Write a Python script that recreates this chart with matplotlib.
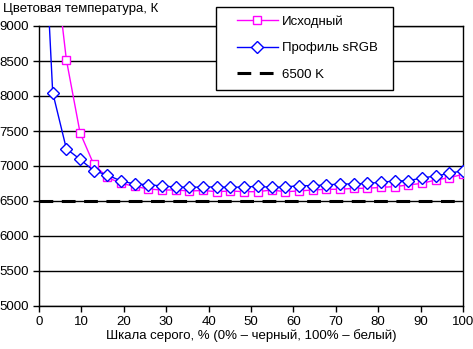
import numpy as np
import matplotlib
matplotlib.use("Agg")
import matplotlib.pyplot as plt
from matplotlib.patches import Rectangle

plt.rcParams['font.family'] = ['Liberation Sans', 'DejaVu Sans']
plt.rcParams['font.size'] = 9.5

# grey levels, %
x_src = [3.23, 6.45, 9.68, 12.90, 16.13, 19.35, 22.58, 25.81, 29.03, 32.26,
         35.48, 38.71, 41.94, 45.16, 48.39, 51.61, 54.84, 58.06, 61.29, 64.52,
         67.74, 70.97, 74.19, 77.42, 80.65, 83.87, 87.10, 90.32, 93.55, 96.77, 100.0]
t_src = [10200, 8520, 7476, 7024, 6838, 6752, 6710, 6671, 6657, 6657,
         6643, 6650, 6633, 6643, 6633, 6633, 6657, 6633, 6643, 6657,
         6667, 6667, 6681, 6681, 6695, 6705, 6729, 6752, 6800, 6833, 6881]

x_srgb = [0.0, 3.23, 6.45, 9.68, 12.90, 16.13, 19.35, 22.58, 25.81, 29.03,
          32.26, 35.48, 38.71, 41.94, 45.16, 48.39, 51.61, 54.84, 58.06, 61.29,
          64.52, 67.74, 70.97, 74.19, 77.42, 80.65, 83.87, 87.10, 90.32, 93.55,
          96.77, 100.0]
t_srgb = [12000, 8050, 7247, 7096, 6933, 6871, 6786, 6743, 6733, 6714,
          6700, 6695, 6700, 6700, 6695, 6700, 6710, 6695, 6700, 6719,
          6719, 6729, 6743, 6743, 6752, 6767, 6786, 6790, 6829, 6857,
          6895, 6933]

ref_x = [0, 100]
ref_t = [6500, 6500]

fig = plt.figure(figsize=(4.73, 3.49), dpi=100)
ax = fig.add_axes([39/473, 1 - 306/349, (463 - 39)/473, (306 - 26)/349])

l3, = ax.plot(ref_x, ref_t, color='black', lw=2.2, dashes=(4.5, 2.8), zorder=2)
l1, = ax.plot(x_src, t_src, color='#ff00ff', lw=1, marker='s', ms=6.2,
              mfc='white', mec='#ff00ff', mew=1, zorder=3)
l2, = ax.plot(x_srgb, t_srgb, color='#0000ff', lw=1, marker='D', ms=5.8,
              mfc='white', mec='#0000ff', mew=1, zorder=4)

ax.set_xlim(0, 100)
ax.set_ylim(5000, 9000)
ax.set_xticks(np.arange(0, 101, 10))
ax.set_yticks(np.arange(5000, 9001, 500))
ax.yaxis.grid(True, color='black', lw=1)
ax.set_axisbelow(True)
ax.tick_params(direction='out', length=4, width=1, colors='black', pad=3)
for s in ax.spines.values():
    s.set_linewidth(1)
    s.set_color('black')

ax.set_xlabel('Шкала серого, % (0% – черный, 100% – белый)', labelpad=1)
fig.text(3/473, 1 - 9/349, 'Цветовая температура, К', ha='left', va='center')

# legend box drawn separately so padding matches the original
fig.patches.append(Rectangle((216/473, 1 - 90/349), (393 - 216)/473, (90 - 7)/349,
                             transform=fig.transFigure, facecolor='white',
                             edgecolor='black', lw=1, zorder=5))
leg = fig.legend([l1, l2, l3], ['Исходный', 'Профиль sRGB', '6500 K'],
                 loc='upper left', bbox_to_anchor=(237/473, 1 - 15/349),
                 borderaxespad=0, borderpad=0, frameon=False,
                 handlelength=3.1, handletextpad=0.3, labelspacing=1.1)
leg.set_zorder(6)

fig.savefig('out.png', dpi=100)
